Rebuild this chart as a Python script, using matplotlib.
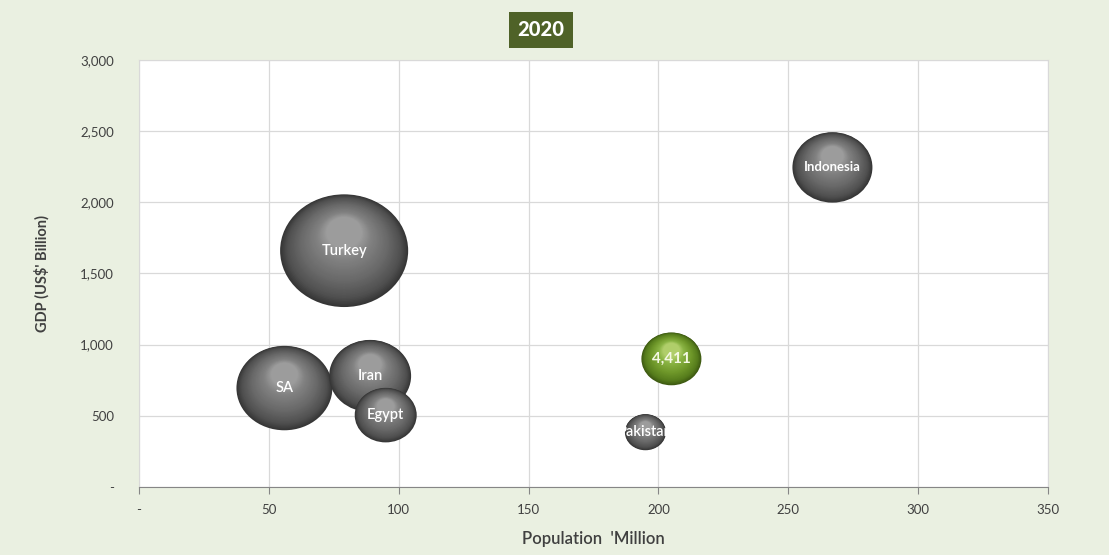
import numpy as np
import matplotlib
matplotlib.use('Agg')
import matplotlib.pyplot as plt
from matplotlib.patches import Ellipse
from matplotlib.transforms import Affine2D, ScaledTranslation
import matplotlib.colors as mcolors

# ---------------- data ----------------
labels = ['Turkey', 'SA', 'Iran', 'Egypt', 'Pakistan', 'Indonesia', '4,411']
population = [79, 56, 89, 95, 195, 267, 205]          # million
gdp = [1660, 695, 780, 505, 385, 2245, 900]           # US$ billion
bubble_size = [4100, 2300, 1680, 960, 420, 1600, 900]  # relative bubble area
highlighted = [False, False, False, False, False, False, True]

x_ticks = [0, 50, 100, 150, 200, 250, 300, 350]
x_tick_labels = ['-', '50', '100', '150', '200', '250', '300', '350']
y_ticks = [0, 500, 1000, 1500, 2000, 2500, 3000]
y_tick_labels = ['-', '500', '1,000', '1,500', '2,000', '2,500', '3,000']
title = '2020'

# ---------------- style ----------------
DPI = 100
FONT = ['Lato', 'DejaVu Sans']
BG = '#EAF0E1'
ASPECT = 0.88

gray_cmap = mcolors.LinearSegmentedColormap.from_list(
    'g', [(0, '#363636'), (0.15, '#505050'), (0.45, '#6a6a6a'), (0.8, '#828282'), (1, '#9c9c9c')])
green_cmap = mcolors.LinearSegmentedColormap.from_list(
    'gr', [(0, '#3e5a12'), (0.15, '#567c1c'), (0.45, '#6f982a'), (0.8, '#8ab444'), (1, '#b0ce6a')])

plt.rcParams['font.family'] = FONT

fig = plt.figure(figsize=(11.09, 5.55), dpi=DPI, facecolor=BG)
ax = fig.add_axes([0.1253, 0.1225, 0.8197, 0.7695])
ax.set_facecolor('white')
ax.set_xlim(0, 350)
ax.set_ylim(0, 3000)

ax.set_xticks(x_ticks)
ax.set_xticklabels(x_tick_labels)
ax.set_yticks(y_ticks)
ax.set_yticklabels(y_tick_labels)
ax.tick_params(axis='x', length=5, color='#868686', labelsize=9.5, labelcolor='#404040', pad=7)
ax.tick_params(axis='y', length=0, labelsize=9.5, labelcolor='#404040', pad=18)
ax.grid(True, color='#D9D9D9', lw=0.9)
ax.set_axisbelow(True)
for s in ['left', 'top', 'right']:
    ax.spines[s].set_color('#D9D9D9')
ax.spines['bottom'].set_color('#868686')

ax.set_ylabel("GDP (US$' Billion)", fontsize=10.5, fontweight='bold', color='#404040', labelpad=22)
ax.set_xlabel("Population  'Million", fontsize=12, fontweight='semibold', color='#404040', labelpad=11)

N = 40
for i, (lab, x, y, sz, hl) in enumerate(zip(labels, population, gdp, bubble_size, highlighted)):
    w = 2 * np.sqrt(sz) * 72 / DPI   # width in points
    h = w * ASPECT
    tr = Affine2D().scale(DPI / 72) + ScaledTranslation(x, y, ax.transData)
    cmap = green_cmap if hl else gray_cmap
    base_z = 3 + i
    base = None
    for k in range(N):
        t = k / (N - 1)
        f = 1 - 0.72 * t
        dy = 0.32 * h / 2 * t
        e = Ellipse((0, dy), w * f, h * f, transform=tr, facecolor=cmap(t),
                    edgecolor='none', zorder=base_z + k * 0.01)
        ax.add_patch(e)
        if base is None:
            base = e
    txt = ax.text(x, y, lab, ha='center', va='center', color='white' if not hl else '#f4f8e4',
                  fontsize=11 if hl else (9.5 if lab == 'Indonesia' else 10.5),
                  fontweight='bold' if hl or lab == 'Indonesia' else 'semibold',
                  zorder=base_z + 0.5)
    txt.set_clip_path(base)

fig.text(0.488, 0.946, title, ha='center', va='center', fontsize=14.5, fontweight='black',
         color='white', bbox=dict(boxstyle='square,pad=0.42', facecolor='#4F6228', edgecolor='none'))

fig.savefig('out.png', dpi=DPI, facecolor=BG)
